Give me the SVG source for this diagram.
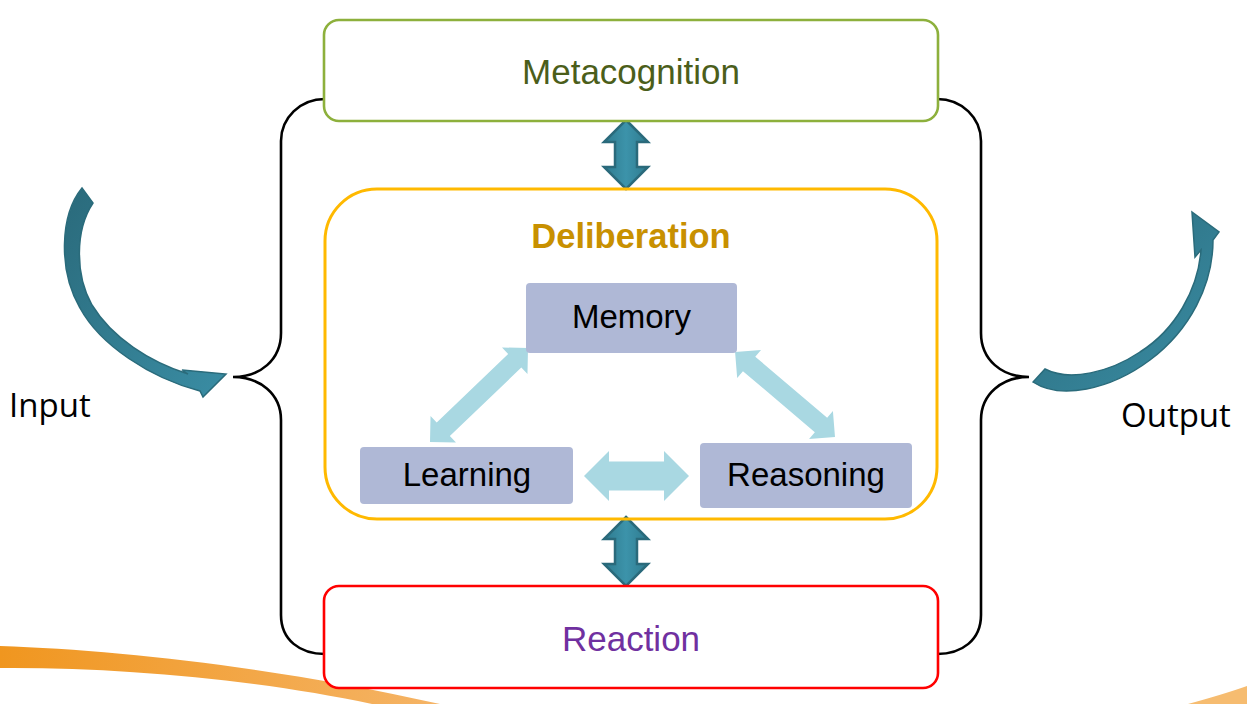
<svg xmlns="http://www.w3.org/2000/svg" width="1247" height="704" viewBox="0 0 1247 704">
<style>
.box{fill:#fff}
.lbl{font-family:"Liberation Sans",Arial,sans-serif;text-anchor:middle}
.io{font-family:"Open Sans","Liberation Sans",sans-serif;font-size:33px;fill:#000}
.sub{fill:#AFB8D6}
.sublbl{font-family:"Liberation Sans",Arial,sans-serif;font-size:33px;fill:#000;text-anchor:middle}
.brace{fill:none;stroke:#000;stroke-width:2.6}
.teal{fill:url(#tg);stroke:#2A6A7B;stroke-width:2.5;stroke-linejoin:miter}
.curv{fill:url(#cg);stroke:#2A6B7B;stroke-width:1.5;stroke-linejoin:miter}
.lb{fill:#A9D8E2}
</style>
<defs>
<linearGradient id="tg" x1="0" y1="0" x2="1" y2="0">
<stop offset="0" stop-color="#2F7B8F"/><stop offset="0.5" stop-color="#3C93AA"/><stop offset="1" stop-color="#2F7B8F"/>
</linearGradient>
<linearGradient id="cg" x1="0" y1="0" x2="1" y2="1">
<stop offset="0" stop-color="#2A6A7B"/><stop offset="1" stop-color="#3A8DA4"/>
</linearGradient>
<linearGradient id="og" x1="0" y1="0" x2="1" y2="0">
<stop offset="0" stop-color="#F0961F"/><stop offset="1" stop-color="#F5B466"/>
</linearGradient>
</defs>

<g id="swoosh">
<path d="M0,646 C120,650 280,668 440,704 L372,704 C260,680 120,667 0,668 Z" fill="url(#og)"/>
<path d="M1188,704 C1210,698 1230,692 1247,686 L1247,704 Z" fill="#F6BC70"/>
</g>

<g id="connectors">
<path class="brace" d="M325,99 C300,99 281,118 281,141 L281,333 C281,360 260,377 233,377 C260,377 281,394 281,420 L281,615 C281,640 300,654 325,654"/>
<path class="brace" d="M937,99 C962,99 981,118 981,141 L981,333 C981,360 1002,377 1029,377 C1002,377 981,394 981,420 L981,615 C981,640 962,654 937,654"/>
<path class="curv" d="M82,188 C60,215 58,270 80,308 C100,345 150,378 200,391 L203,397 L226,374 L182,370 L188,374 C150,362 112,338 92,305 C75,275 75,230 93,203 Z"/>
<path class="curv" d="M1033,382 C1060,400 1110,390 1150,360 C1190,330 1213,285 1213,240 L1219,232 L1192,212 L1195,257 L1201,250 C1198,290 1175,330 1140,352 C1110,372 1070,382 1045,369 Z"/>
<polygon class="teal" points="626,120 648,142 637,142 637,167 648,167 626,189 604,167 615,167 615,142 604,142"/>
<polygon class="teal" points="626,517 648,539 637,539 637,564 648,564 626,586 604,564 615,564 615,539 604,539"/>
<polygon class="lb" points="584,476 609,451 609,461.5 664,461.5 664,451 689,476 664,501 664,490.5 609,490.5 609,501"/>
<polygon class="lb" transform="translate(430,442) rotate(-43.8)" points="0,0 18.4,-18.4 18.4,-9.5 117.4,-9.5 117.4,-18.4 135.8,0 117.4,18.4 117.4,9.5 18.4,9.5 18.4,18.4"/>
<polygon class="lb" transform="translate(835,437) rotate(-139.6)" points="0,0 18.4,-18.4 18.4,-9.5 112.8,-9.5 112.8,-18.4 131.2,0 112.8,18.4 112.8,9.5 18.4,9.5 18.4,18.4"/>
</g>

<g id="metacognition">
<rect class="box" x="324" y="20" width="614" height="101" rx="15" stroke="#8DB03C" stroke-width="2.6"/>
<text class="lbl" x="631" y="84" font-size="35" fill="#4B5E1A">Metacognition</text>
</g>

<g id="deliberation">
<rect x="325" y="189" width="612" height="330" rx="52" fill="none" stroke="#FFB900" stroke-width="3"/>
<text class="lbl" x="631" y="248" font-size="34.5" font-weight="bold" fill="#C89000">Deliberation</text>
</g>

<g id="memory">
<rect class="sub" x="526" y="283" width="211" height="70" rx="4"/>
<text class="sublbl" x="631.5" y="328">Memory</text>
</g>

<g id="learning">
<rect class="sub" x="360" y="447" width="213" height="57" rx="4"/>
<text class="sublbl" x="467" y="486">Learning</text>
</g>

<g id="reasoning">
<rect class="sub" x="700" y="443" width="212" height="65" rx="4"/>
<text class="sublbl" x="806" y="486">Reasoning</text>
</g>

<g id="reaction">
<rect class="box" x="324" y="586" width="614" height="102" rx="15" stroke="#FF0000" stroke-width="2.6"/>
<text class="lbl" x="631" y="651" font-size="35" fill="#7030A0">Reaction</text>
</g>

<g id="input">
<text class="io" x="9" y="417">Input</text>
</g>
<g id="output">
<text class="io" x="1121" y="427">Output</text>
</g>
</svg>
